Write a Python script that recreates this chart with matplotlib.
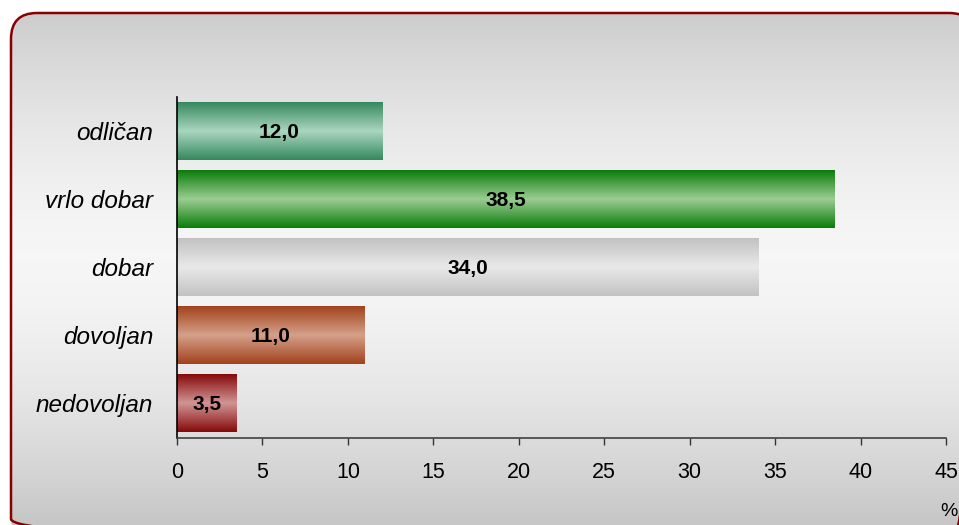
import numpy as np
import matplotlib
matplotlib.use("Agg")
import matplotlib.pyplot as plt
from matplotlib.patches import FancyBboxPatch
from matplotlib.colors import LinearSegmentedColormap

categories = ["odličan", "vrlo dobar", "dobar", "dovoljan", "nedovoljan"]
values = [12.0, 38.5, 34.0, 11.0, 3.5]
value_labels = ["12,0", "38,5", "34,0", "11,0", "3,5"]
xticks = [0, 5, 10, 15, 20, 25, 30, 35, 40, 45]

edge_colors = ["#35895e", "#0a7d0a", "#c2c2c2", "#a2421c", "#850a0a"]
mid_colors = ["#aad6c0", "#9ccd94", "#e9e9e9", "#d5a18a", "#d29595"]

W, H = 959, 525
fig = plt.figure(figsize=(W / 100, H / 100), dpi=100)
fig.patch.set_facecolor("white")

# background frame with vertical gradient
bg = fig.add_axes([0, 0, 1, 1])
bg.set_xlim(0, W)
bg.set_ylim(H, 0)
bg.axis("off")
t = np.linspace(0, 1, 256)
g = 0.755 + (0.965 - 0.755) * (1 - np.abs((t - 0.46) / 0.54) ** 1.6)
g = np.clip(g, 0, 1)
img = np.dstack([g, g, g]).reshape(256, 1, 3)
im = bg.imshow(img, extent=(11, 975, 545, 13), aspect="auto", interpolation="bilinear", zorder=0)
frame = FancyBboxPatch((11, 13), 964, 532, boxstyle="round,pad=0,rounding_size=26",
                       facecolor="none", edgecolor="#880000", linewidth=1.8, zorder=2)
bg.add_patch(frame)
im.set_clip_path(frame)

ax = fig.add_axes([177 / W, 1 - 438 / H, (946 - 177) / W, (438 - 97) / H])
ax.patch.set_alpha(0)
ypos = np.arange(len(categories))
bar_h = 0.85
bars = ax.barh(ypos, values, height=bar_h, color="none", edgecolor="none", zorder=2)

for i, b in enumerate(bars):
    cmap = LinearSegmentedColormap.from_list(
        f"c{i}", [edge_colors[i], mid_colors[i], edge_colors[i]])
    grad = np.linspace(0, 1, 128).reshape(-1, 1)
    x0, y0 = b.get_x(), b.get_y()
    ax.imshow(grad, cmap=cmap, extent=(x0, x0 + b.get_width(), y0 + b.get_height(), y0),
              aspect="auto", interpolation="bilinear", zorder=2)
    ax.text(values[i] / 2, ypos[i] + 0.02, value_labels[i], ha="center", va="center",
            fontsize=15, fontweight="bold", family="Liberation Sans", zorder=3)

ax.set_xlim(0, 45)
ax.set_ylim(len(categories) - 0.5 + 0.02, -0.5)
ax.set_xticks(xticks)
ax.set_xticklabels([str(x) for x in xticks], fontsize=15.5, family="Liberation Sans")
ax.set_yticks(ypos)
ax.set_yticklabels(categories, fontsize=17.5, family="Liberation Sans", style="italic")
ax.tick_params(axis="y", length=0, pad=17)
ax.tick_params(axis="x", direction="out", length=5, width=1, color="#333333", pad=12)
for s in ["top", "right"]:
    ax.spines[s].set_visible(False)
ax.spines["left"].set_color("black")
ax.spines["left"].set_linewidth(1.2)
ax.spines["bottom"].set_color("#404040")
ax.spines["bottom"].set_linewidth(1.2)

fig.text(958 / W, 1 - 511 / H, "%", ha="right", va="center", fontsize=14,
         family="Liberation Sans")

fig.savefig("out.png", dpi=100)
